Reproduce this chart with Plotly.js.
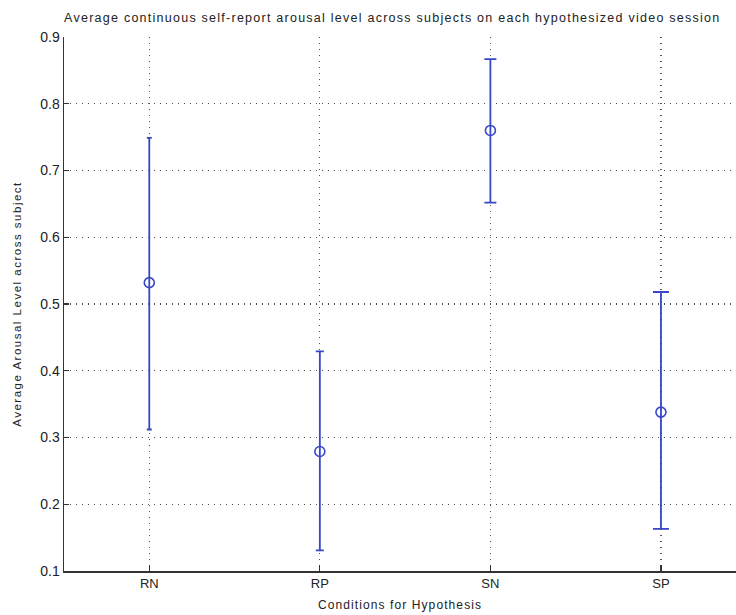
<!DOCTYPE html>
<html>
<head>
<meta charset="utf-8">
<script src="https://cdn.plot.ly/plotly-3.0.1.min.js"></script>
<style>
  html, body { margin: 0; padding: 0; background: #fff; }
  #chart { width: 736px; height: 615px; }
  /* wide, tracking-heavy lettering for titles */
  #chart .gtitle { letter-spacing: 1.25px; }
  #chart .g-xtitle text { letter-spacing: 1.1px; }
  #chart .g-ytitle text { letter-spacing: 1.5px; }
</style>
</head>
<body>
<div id="chart"></div>
<script>
// Hypothesised video sessions
const conditions = ['RN', 'RP', 'SN', 'SP'];
// Mean self-reported arousal across subjects
const meanArousal = [0.532, 0.279, 0.760, 0.338];
// Upper and lower ends of each error bar
const upperArousal = [0.749, 0.429, 0.867, 0.518];
const lowerArousal = [0.312, 0.131, 0.652, 0.163];
// Half-width of each cap in pixels
const capWidths = [2.5, 4, 6, 8];

const blue = '#3846c8';

const traces = conditions.map((c, i) => ({
  type: 'scatter',
  mode: 'markers',
  x: [i + 1],
  y: [meanArousal[i]],
  marker: { symbol: 'circle-open', size: 10, color: blue, line: { width: 1.6, color: blue } },
  error_y: {
    type: 'data',
    symmetric: false,
    array: [upperArousal[i] - meanArousal[i]],
    arrayminus: [meanArousal[i] - lowerArousal[i]],
    color: blue,
    thickness: 1.8,
    width: capWidths[i]
  },
  hoverinfo: 'x+y',
  showlegend: false
}));

const font = { family: 'Liberation Sans, Arial, sans-serif', color: '#222' };
const gridDots = '1px,5px';

const layout = {
  width: 736,
  height: 615,
  margin: { l: 64, r: 0, t: 37, b: 44 },
  paper_bgcolor: '#fff',
  plot_bgcolor: '#fff',
  font: Object.assign({ size: 12 }, font),
  title: {
    text: 'Average continuous self-report arousal level across subjects on each hypothesized video session',
    font: Object.assign({ size: 12.5 }, font),
    xref: 'container', x: 0.533, xanchor: 'center',
    yref: 'container', y: 1 - 18 / 615, yanchor: 'middle'
  },
  xaxis: {
    range: [0.5, 4.44],
    tickvals: [1, 2, 3, 4],
    ticktext: conditions,
    ticks: 'inside', ticklen: 6, tickwidth: 1.2, tickcolor: '#333',
    showline: true, linecolor: '#333', linewidth: 1.5,
    showgrid: true, gridcolor: '#555', griddash: gridDots, gridwidth: 1.2,
    zeroline: false,
    tickfont: Object.assign({ size: 13 }, font),
    title: { text: 'Conditions for Hypothesis', font: Object.assign({ size: 12 }, font), standoff: 10 }
  },
  yaxis: {
    range: [0.1, 0.9],
    dtick: 0.1,
    tickformat: '.1f',
    ticks: 'inside', ticklen: 5, tickwidth: 1.2, tickcolor: '#333',
    showline: true, linecolor: '#333', linewidth: 1.5,
    showgrid: true, gridcolor: '#555', griddash: gridDots, gridwidth: 1.2,
    zeroline: false,
    tickfont: Object.assign({ size: 14 }, font),
    title: { text: 'Average Arousal Level across subject', font: Object.assign({ size: 11.5 }, font), standoff: 16 }
  }
};

Plotly.newPlot('chart', traces, layout, { displayModeBar: false, staticPlot: true });
</script>
</body>
</html>
